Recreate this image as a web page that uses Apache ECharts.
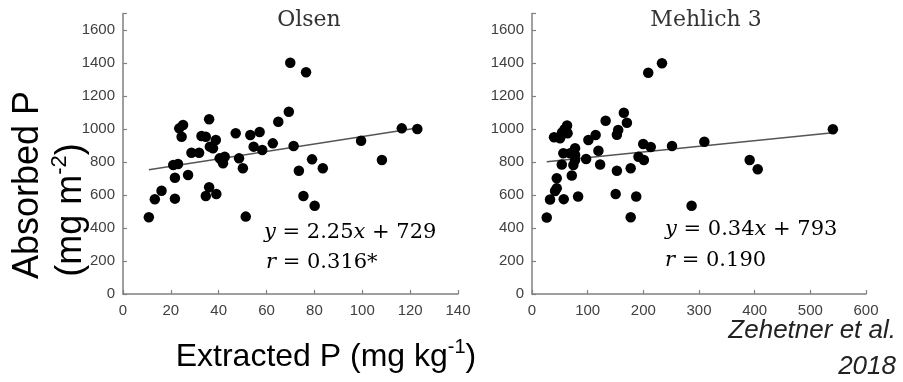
<!DOCTYPE html>
<html><head><meta charset="utf-8">
<script src="https://cdn.jsdelivr.net/npm/echarts@6/dist/echarts.min.js"></script>
<style>html,body{margin:0;padding:0;background:#fff}#c{width:903px;height:382px}</style>
</head><body><div id="c"></div>
<script>
// ---- data ----
const panelTitles = ['Olsen', 'Mehlich 3'];
const olsenX = [36,25.1,23.5,24.5,32.8,34.6,38.8,36.3,37.6,47.1,53.2,57.1,54.6,58.2,62.6,28.6,31.8,40.4,42.5,41.8,48.5,50.1,21.0,23.0,21.7,27.2,36.0,34.6,39.0,16.1,13.3,21.7,10.8,51.3,69.9,76.5,69.3,64.9,71.3,79.0,83.5,73.5,75.4,80.1,99.5,116.5,123.0,108.2];
const olsenY = [1059,1024,1004,953,958,953,933,893,883,974,964,982,893,873,913,856,856,822,832,792,822,762,782,788,705,721,647,594,606,626,574,578,465,469,1402,1344,1105,1044,897,816,762,747,594,535,929,1004,1000,812];
const mehlichX = [233.5,208.8,165,170.5,132.3,63,58.5,54,63.9,39.6,50.4,154.8,152.5,114.3,101.3,199.8,213.3,251.5,309.6,56.3,68.4,77.4,77.4,119.3,97.2,191.3,201,53.5,74.3,77.4,122.4,152.5,177.3,71.5,44.5,44.5,41.4,32.4,57,82.8,150.3,187.2,26.5,177.3,391,405.5,286.7,540.5];
const mehlichY = [1398,1341,1099,1038,1050,1021,998,979,974,950,944,994,965,964,933,909,891,897,923,853,853,883,842,868,818,832,812,785,782,812,785,747,762,718,701,641,624,573,575,591,606,591,464,465,812,756,535,998];
const olsenFit = [2.25, 729];      // slope, intercept
const mehlichFit = [0.34, 793];
const olsenEq = ['2.25', '729', '0.316*'];
const mehlichEq = ['0.34', '793', '0.190'];
const olsenXAxis = [0, 140, 20];   // min, max, interval
const mehlichXAxis = [0, 600, 100];
const yAxisRange = [0, 1700, 200];
const yLabelMax = 1600;

// ---- build ----
function pairs(xs, ys) { return xs.map((x, i) => [x, ys[i]]); }
function fitLine(xs, fit) {
  const lo = Math.min(...xs), hi = Math.max(...xs);
  return [[lo, fit[0] * lo + fit[1]], [hi, fit[0] * hi + fit[1]]];
}
const axisCol = '#808080';
const labelStyle = { color: '#404040', fontSize: 15, fontFamily: 'Liberation Sans, Arial, sans-serif' };
function xAx(i, r) {
  return { type: 'value', gridIndex: i, min: r[0], max: r[1], interval: r[2],
    axisLine: { show: true, onZero: false, lineStyle: { color: axisCol, width: 1.5 } },
    axisTick: { show: true, inside: true, length: 4, lineStyle: { color: axisCol, width: 1.2 } },
    axisLabel: Object.assign({ margin: 9 }, labelStyle),
    splitLine: { show: false } };
}
function yAx(i) {
  return { type: 'value', gridIndex: i, min: yAxisRange[0], max: yAxisRange[1], interval: yAxisRange[2],
    axisLine: { show: true, lineStyle: { color: axisCol, width: 1.5 } },
    axisTick: { show: true, inside: true, length: 4, lineStyle: { color: axisCol, width: 1.2 } },
    axisLabel: Object.assign({ margin: 8, formatter: v => (v > yLabelMax ? '' : String(v)) }, labelStyle),
    splitLine: { show: false } };
}
const serif = '"DejaVu Serif", "Liberation Serif", serif';
const eqRich = {
  n: { fontSize: 21, fontFamily: serif, color: '#333' },
  i: { fontSize: 21, fontFamily: serif, fontStyle: 'italic', color: '#333' }
};
function eqText(x, y, str) {
  return { type: 'text', x: x, y: y, style: { text: str, rich: eqRich, align: 'left', verticalAlign: 'middle' } };
}
const sans = '"Liberation Sans", Arial, sans-serif';

const chart = echarts.init(document.getElementById('c'), null, { renderer: 'canvas' });
chart.setOption({
  animation: false,
  backgroundColor: '#fff',
  grid: [
    { left: 123, top: 13.5, width: 335, height: 280.5 },
    { left: 532, top: 13.5, width: 334, height: 280.5 }
  ],
  xAxis: [xAx(0, olsenXAxis), xAx(1, mehlichXAxis)],
  yAxis: [yAx(0), yAx(1)],
  series: [
    { type: 'line', xAxisIndex: 0, yAxisIndex: 0, data: fitLine(olsenX, olsenFit), symbol: 'none',
      lineStyle: { color: '#555', width: 1.5 }, z: 1 },
    { type: 'line', xAxisIndex: 1, yAxisIndex: 1, data: fitLine(mehlichX, mehlichFit), symbol: 'none',
      lineStyle: { color: '#555', width: 1.5 }, z: 1 },
    { type: 'scatter', xAxisIndex: 0, yAxisIndex: 0, data: pairs(olsenX, olsenY), symbolSize: 10.5,
      itemStyle: { color: '#000', opacity: 1 }, z: 2 },
    { type: 'scatter', xAxisIndex: 1, yAxisIndex: 1, data: pairs(mehlichX, mehlichY), symbolSize: 10.5,
      itemStyle: { color: '#000', opacity: 1 }, z: 2 }
  ],
  graphic: [
    { type: 'text', x: 309, y: 20, style: { text: panelTitles[0], font: '22px ' + serif, fill: '#333', align: 'center', verticalAlign: 'middle' } },
    { type: 'text', x: 706, y: 20, style: { text: panelTitles[1], font: '22px ' + serif, fill: '#333', align: 'center', verticalAlign: 'middle' } },
    eqText(264, 233, '{i|y}{n| = ' + olsenEq[0] + '}{i|x}{n| + ' + olsenEq[1] + '}'),
    eqText(266, 263, '{i|r}{n| = ' + olsenEq[2] + '}'),
    eqText(665, 230, '{i|y}{n| = ' + mehlichEq[0] + '}{i|x}{n| + ' + mehlichEq[1] + '}'),
    eqText(665, 261, '{i|r}{n| = ' + mehlichEq[2] + '}'),
    { type: 'text', x: 28, y: 185, rotation: Math.PI / 2,
      style: { text: 'Absorbed P', font: '36px ' + sans, fill: '#000', align: 'center', verticalAlign: 'middle' } },
    { type: 'text', x: 69, y: 210, rotation: Math.PI / 2,
      style: { text: '{n|(mg m}{s|-2}{n|)}', align: 'center', verticalAlign: 'middle',
        rich: { n: { fontSize: 36, fontFamily: sans, color: '#000', verticalAlign: 'bottom', lineHeight: 40 },
                s: { fontSize: 22, fontFamily: sans, color: '#000', verticalAlign: 'top', lineHeight: 40 } } } },
    { type: 'text', x: 326, y: 355,
      style: { text: '{n|Extracted P (mg kg}{s|-1}{n|)}', align: 'center', verticalAlign: 'middle',
        rich: { n: { fontSize: 32, fontFamily: sans, color: '#000', verticalAlign: 'bottom', lineHeight: 36 },
                s: { fontSize: 20, fontFamily: sans, color: '#000', verticalAlign: 'top', lineHeight: 36 } } } },
    { type: 'text', x: 896, y: 331, style: { text: 'Zehetner et al.', font: 'italic 26px ' + sans, fill: '#222', align: 'right', verticalAlign: 'middle' } },
    { type: 'text', x: 896, y: 367, style: { text: '2018', font: 'italic 26px ' + sans, fill: '#222', align: 'right', verticalAlign: 'middle' } }
  ]
});
</script>
</body></html>
